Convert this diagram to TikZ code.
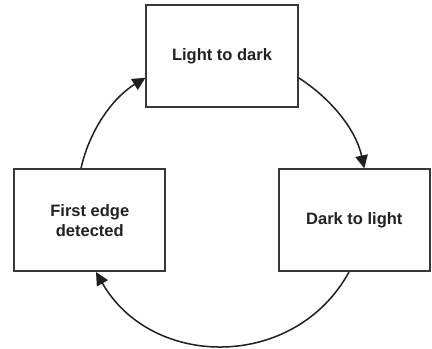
\documentclass[tikz,border=0pt]{standalone}
\usepackage{fontspec}
\setmainfont{Liberation Sans}
\usetikzlibrary{arrows.meta,calc}
\begin{document}
\begin{tikzpicture}[x=1bp,y=1bp,
  box/.style={draw=black!78,line width=2bp,minimum width=151bp,minimum height=101.7bp,
    inner sep=0pt,align=center,font=\fontsize{16.5bp}{20bp}\selectfont\bfseries,text=black!87},
  conn/.style={draw=black!88,line width=1.5bp,-{Triangle[length=13bp,width=12.5bp]}}]
\useasboundingbox (0,0) rectangle (432,349);
\node[box] (top) at (222,293.2) {Light to dark};
\node[box] (left) at (89.8,128.8) {First edge\\detected};
\node[box] (right) at (354.3,128.8) {Dark to light};
\draw[conn] (top.-16) to[out=-32.6,in=102.1,looseness=0.89] ($(right.north)+(10,0)$);
\draw[conn] ($(right.south)+(-5.3,0)$) to[out=-118.8,in=-60.2,looseness=1.14] ($(left.south)+(6.2,0)$);
\draw[conn] ($(left.north)+(-8.8,0)$) to[out=77.5,in=211.4,looseness=0.89] (top.196);
\end{tikzpicture}
\end{document}
